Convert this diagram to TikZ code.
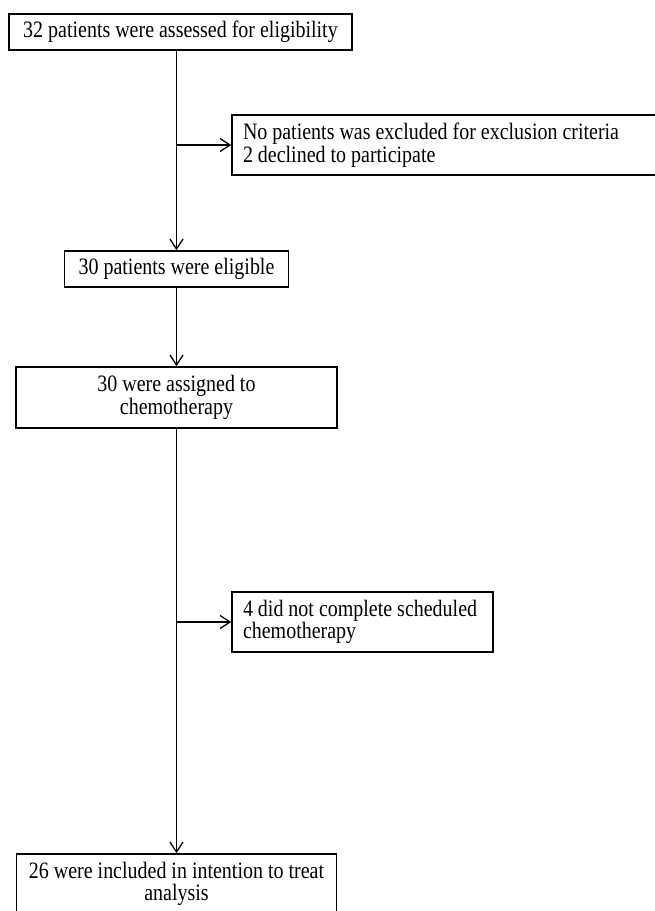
\documentclass[tikz,border=0pt]{standalone}
\usepackage{fontspec}
\setmainfont{Liberation Serif}[FakeStretch=0.85]
\usetikzlibrary{arrows.meta,positioning}

\begin{document}
\begin{tikzpicture}[x=1pt, y=-1pt, line width=1.3pt,
                    >={Straight Barb[length=10pt,width=13pt]}]
\useasboundingbox (0,0) rectangle (655,911);
\clip (0,0) rectangle (655,911);
\tikzstyle{every node}=[rectangle, draw, inner sep=0pt, line width=1.5pt,
                        font=\fontsize{23.5}{22.5}\selectfont]
\tikzstyle{sidebox}=[align=flush left, inner xsep=11pt, minimum height=60pt]
\node[minimum width=343pt, minimum height=36pt] (assessed) at (180.5,32) {32 patients were assessed for eligibility};
\node[sidebox, text width=406pt] (excluded) at (446,145) {No patients was excluded for exclusion criteria\\2 declined to participate};
\node[minimum width=224pt, minimum height=36pt] (eligible) at (176.5,269) {30 patients were eligible};
\node[align=center, minimum width=321pt, minimum height=61pt] (assigned) at (176.5,397.5) {30 were assigned to\\chemotherapy};
\node[sidebox, text width=239pt] (incomplete) at (362.5,622) {4 did not complete scheduled\\chemotherapy};
\node[align=center, minimum width=320pt, minimum height=60pt] (analysed) at (176.5,884) {26 were included in intention to treat\\analysis};
\coordinate (split1) at (176.5,145);
\coordinate (split2) at (176.5,622);
\draw[->] (assessed.south -| eligible) -- (eligible);
\draw[->] (split1) -- (excluded);
\draw[->] (eligible) -- (assigned);
\draw[->] (assigned) -- (analysed);
\draw[->] (split2) -- (incomplete);
\end{tikzpicture}
\end{document}
